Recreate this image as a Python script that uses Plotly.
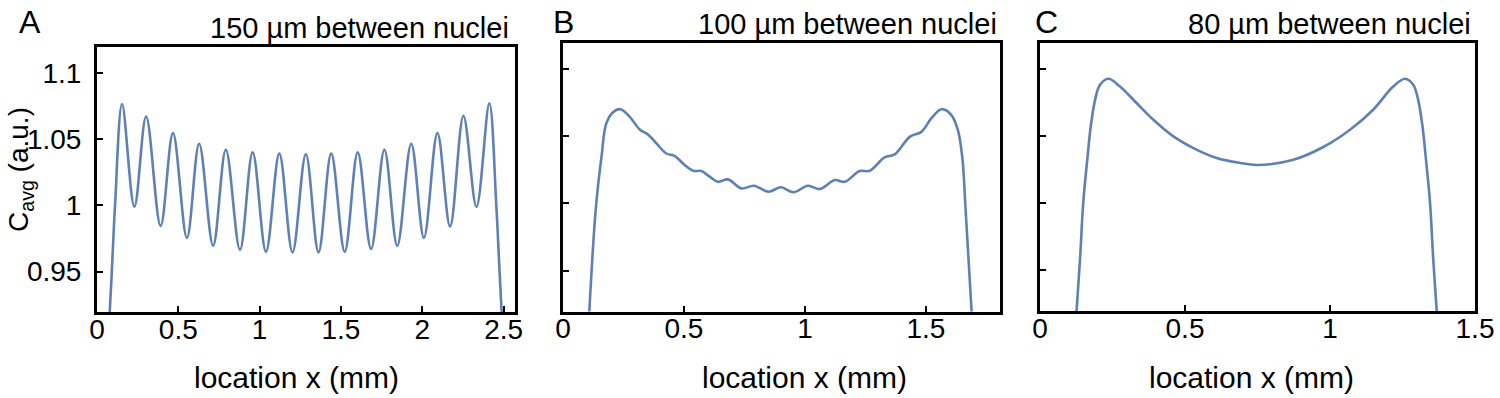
import plotly.graph_objects as go

# ---------------- data ----------------
a_x = [0.070, 0.091, 0.111, 0.154, 0.230, 0.302, 0.391, 0.467, 0.553, 0.628, 0.714,
       0.792, 0.879, 0.957, 1.039, 1.121, 1.202, 1.284, 1.362, 1.440, 1.523, 1.603,
       1.685, 1.767, 1.846, 1.932, 2.010, 2.093, 2.171, 2.253, 2.333, 2.412, 2.455,
       2.475, 2.496]
a_y = [0.900, 0.950, 1.000, 1.0765, 0.999, 1.067, 0.9845, 1.0545, 0.9755, 1.0465, 0.9695,
       1.042, 0.9665, 1.040, 0.965, 1.039, 0.9645, 1.0385, 0.9645, 1.039, 0.965, 1.040,
       0.967, 1.042, 0.9695, 1.0465, 0.9755, 1.0545, 0.984, 1.0675, 0.999, 1.077, 1.000,
       0.950, 0.900]

b_x = [0.103, 0.135, 0.159, 0.179, 0.207, 0.237, 0.276, 0.317, 0.351, 0.386, 0.427,
       0.462, 0.503, 0.537, 0.572, 0.606, 0.640, 0.682, 0.737, 0.789, 0.849, 0.901,
       0.953, 1.012, 1.061, 1.123, 1.164, 1.226, 1.267, 1.329, 1.371, 1.433, 1.481,
       1.522, 1.564, 1.605, 1.632, 1.650, 1.664, 1.695]
b_y = [0.900, 0.995, 1.0347, 1.0596, 1.068, 1.0702, 1.0645, 1.0551, 1.0514, 1.0447, 1.0372,
       1.0353, 1.0286, 1.0243, 1.0241, 1.0199, 1.0161, 1.0179, 1.0112, 1.0132, 1.0087, 1.012,
       1.0083, 1.0132, 1.0107, 1.0174, 1.0161, 1.0241, 1.0243, 1.0343, 1.0365, 1.0496, 1.0533,
       1.0633, 1.0702, 1.0658, 1.0546, 1.0347, 0.995, 0.900]

c_x = [0.120, 0.138, 0.149, 0.163, 0.175, 0.190, 0.207, 0.236, 0.276, 0.333, 0.391,
       0.460, 0.529, 0.609, 0.690, 0.750, 0.874, 0.977, 1.069, 1.149, 1.218, 1.259,
       1.287, 1.304, 1.319, 1.331, 1.345, 1.356, 1.374]
c_y = [0.900, 0.958, 1.000, 1.0324, 1.0572, 1.0771, 1.0883, 1.0928, 1.087, 1.0747, 1.0622,
       1.0498, 1.0411, 1.0337, 1.030, 1.0285, 1.0324, 1.0419, 1.0548, 1.0697, 1.087, 1.0928,
       1.0883, 1.0771, 1.0572, 1.0324, 1.000, 0.958, 0.900]

y_ticks = [0.95, 1.0, 1.05, 1.1]
y_ticktext = ["0.95", "1", "1.05", "1.1"]
a_xticks = [0, 0.5, 1, 1.5, 2, 2.5]
a_xticktext = ["0", "0.5", "1", "1.5", "2", "2.5"]
b_xticks = [0, 0.5, 1, 1.5]
b_xticktext = ["0", "0.5", "1", "1.5"]
c_xticks = [0, 0.5, 1, 1.5]
c_xticktext = ["0", "0.5", "1", "1.5"]

panel_letters = ["A", "B", "C"]
panel_titles = ["150 µm between nuclei", "100 µm between nuclei", "80 µm between nuclei"]
x_title = "location x (mm)"
y_title = "C<sub>avg</sub> (a.u.)"

# ---------------- styling ----------------
W, H = 1500, 398
FONT = "Liberation Sans, Arial, Helvetica, sans-serif"
LINE_COLOR = "#5E81B5"

def px(v):
    return v / W

def py(v):
    return 1 - v / H

fig = go.Figure()
series = [(a_x, a_y, "x", "y"), (b_x, b_y, "x2", "y2"), (c_x, c_y, "x3", "y3")]
for xs, ys, xa, ya in series:
    fig.add_trace(go.Scatter(x=xs, y=ys, mode="lines", xaxis=xa, yaxis=ya,
                             line=dict(color=LINE_COLOR, width=2.6, shape="spline", smoothing=1.0),
                             showlegend=False, hoverinfo="skip"))

axis_common = dict(showline=True, linecolor="black", linewidth=3, mirror=True,
                   ticks="inside", ticklen=6, tickwidth=2, tickcolor="black",
                   showgrid=False, zeroline=False, automargin=False,
                   ticklabeloverflow="allow",
                   tickfont=dict(family=FONT, size=28, color="black"))

# pixel boxes (left, right, top, bottom)
boxes = [(97, 515, 47, 312), (563, 1000, 43, 311.5), (1040, 1475, 43, 311)]
xranges = [[0, 2.57], [0, 1.806], [0, 1.5]]
xticks = [(a_xticks, a_xticktext), (b_xticks, b_xticktext), (c_xticks, c_xticktext)]

layout = dict(width=W, height=H, autosize=False, margin=dict(l=0, r=0, t=0, b=0),
              paper_bgcolor="white", plot_bgcolor="white")
for i, (l, r, t, b) in enumerate(boxes):
    sfx = "" if i == 0 else str(i + 1)
    layout["xaxis" + sfx] = dict(axis_common, domain=[px(l), px(r)], range=xranges[i],
                                 tickvals=xticks[i][0], ticktext=xticks[i][1],
                                 anchor="y" + sfx, ticklabelstandoff=-10)
    layout["yaxis" + sfx] = dict(axis_common, domain=[py(b), py(t)], range=[0.9195, 1.1195],
                                 tickvals=y_ticks, ticktext=y_ticktext,
                                 showticklabels=(i == 0), anchor="x" + sfx,
                                 ticklabelstandoff=7)
fig.update_layout(**layout)

annotations = []
letter_pos = [(17, 22), (551, 22), (1033, 22)]
title_pos = [(511, 28), (999, 24), (1473, 24)]
xtitle_center = [296, 804, 1251]
for i in range(3):
    annotations.append(dict(text=panel_letters[i], xref="paper", yref="paper",
                            x=px(letter_pos[i][0]), y=py(letter_pos[i][1]),
                            xanchor="left", yanchor="middle", showarrow=False,
                            font=dict(family=FONT, size=32, color="black")))
    annotations.append(dict(text=panel_titles[i], xref="paper", yref="paper",
                            x=px(title_pos[i][0]), y=py(title_pos[i][1]),
                            xanchor="right", yanchor="middle", showarrow=False,
                            font=dict(family=FONT, size=29, color="black")))
    annotations.append(dict(text=x_title, xref="paper", yref="paper",
                            x=px(xtitle_center[i]), y=py(377),
                            xanchor="center", yanchor="middle", showarrow=False,
                            font=dict(family=FONT, size=30, color="black")))
annotations.append(dict(text=y_title, xref="paper", yref="paper",
                        x=px(21), y=py(170), textangle=-90,
                        xanchor="center", yanchor="middle", showarrow=False,
                        font=dict(family=FONT, size=28, color="black")))
fig.update_layout(annotations=annotations)

# remove the browser's default 8px body margin so the figure fills the window exactly
fig.write_html("out.html", config={"displayModeBar": False},
               post_script="document.body.style.margin='0';document.body.style.overflow='hidden';")
